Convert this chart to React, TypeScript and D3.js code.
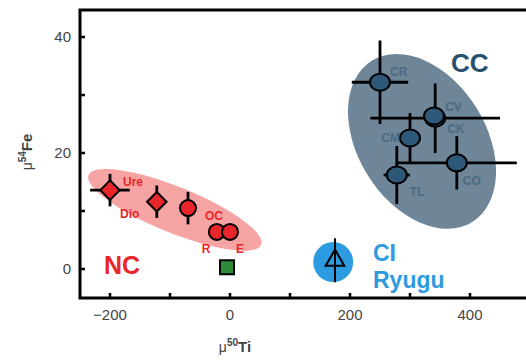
import React from "react";
import * as d3 from "d3";

// NC meteorites (mu50Ti, mu54Fe, errors)
const ncNames = ["Ure", "Dio", "OC", "R", "E"];
const ncTi = [-200, -122, -70, -22, 0];
const ncFe = [13.6, 11.6, 10.5, 6.4, 6.4];
const ncTiErr = [33, 12, 0, 0, 0];
const ncFeErr = [2.8, 2.8, 2.8, 0, 0];
const ncShape = ["diamond", "diamond", "circle", "circle", "circle"];

// CC meteorites
const ccNames = ["CR", "CV", "CK", "CM", "CO", "TL"];
const ccTi = [250, 342, 340, 300, 378, 278];
const ccFe = [32.2, 26, 26.4, 22.6, 18.3, 16.2];
const ccTiErr = [47, 108, 0, 0, 100, 22];
const ccFeErr = [7.2, 6, 0, 4.3, 4.6, 5];

// CI / Ryugu and the green square
const ryuguTi = [175];
const ryuguFe = [1.5];
const ryuguFeErr = [3.8];
const squareTi = [-5];
const squareFe = [0.3];

const xTicks = [-200, 0, 200, 400];
const xMinor = [-100, 100, 300];
const yTicks = [0, 20, 40];
const yMinor = [10, 30];

const W = 526;
const H = 363;
const left = 80;
const right = 530;
const top = 10;
const bottom = 298;

const x = d3.scaleLinear().domain([-250, 500]).range([left, right]);
const y = d3.scaleLinear().domain([-5, 44.66]).range([bottom, top]);

const RED = "#e8262a";
const PINK = "#f5a3a3";
const NAVY = "#2d5878";
const SLATE = "#6f8699";
const CCTXT = "#28506f";
const SKY = "#2d9be0";
const LBL = "#4a6a84";

const font = "Liberation Sans, Arial, sans-serif";

const diamond = d3.symbol().type(d3.symbolSquare).size(190);
const triangle = d3.symbol().type(d3.symbolTriangle).size(150);

export default function App() {
  return (
    <svg width={W} height={H} style={{ position: "absolute", left: 0, top: 0 }} fontFamily={font}>
      <rect width={W} height={H} fill="#fff" />

      {/* group ellipses */}
      <ellipse cx={x(-92)} cy={y(10.2)} rx={93} ry={23} fill={PINK}
        transform={`rotate(22 ${x(-92)} ${y(10.2)})`} />
      <ellipse cx={x(320)} cy={y(22)} rx={95} ry={64} fill={SLATE}
        transform={`rotate(58 ${x(320)} ${y(22)})`} />
      <circle cx={x(172)} cy={y(1.2)} r={20} fill={SKY} />

      {/* NC error bars + markers */}
      {ncNames.map((n, i) => (
        <g key={n}>
          <line x1={x(ncTi[i] - ncTiErr[i])} x2={x(ncTi[i] + ncTiErr[i])} y1={y(ncFe[i])} y2={y(ncFe[i])} stroke="#000" strokeWidth={2.8} />
          <line x1={x(ncTi[i])} x2={x(ncTi[i])} y1={y(ncFe[i] - ncFeErr[i])} y2={y(ncFe[i] + ncFeErr[i])} stroke="#000" strokeWidth={2.8} />
          {ncShape[i] === "diamond" ? (
            <path d={diamond()!} transform={`translate(${x(ncTi[i])},${y(ncFe[i])}) rotate(45)`} fill={RED} stroke="#000" strokeWidth={2} />
          ) : (
            <circle cx={x(ncTi[i])} cy={y(ncFe[i])} r={8} fill={RED} stroke="#000" strokeWidth={2} />
          )}
        </g>
      ))}
      <rect x={x(squareTi[0]) - 7} y={y(squareFe[0]) - 7} width={14} height={14} fill="#2e8b3a" stroke="#000" strokeWidth={2} />

      {/* NC labels */}
      <g fill={RED} fontSize={12} fontWeight="bold">
        <text x={x(-200) + 13} y={y(13.6) - 4}>Ure</text>
        <text x={x(-200) + 10} y={y(11.6) + 16}>Dio</text>
        <text x={x(-70) + 17} y={y(10.5) + 12}>OC</text>
        <text x={x(-22) - 15} y={y(6.4) + 21}>R</text>
        <text x={x(0) + 6} y={y(6.4) + 21}>E</text>
      </g>
      <text x={104} y={274} fill={RED} fontSize={25} fontWeight="bold">NC</text>

      {/* CC error bars + markers */}
      {ccNames.map((n, i) => (
        <g key={n}>
          <line x1={x(ccTi[i] - ccTiErr[i])} x2={x(ccTi[i] + ccTiErr[i])} y1={y(ccFe[i])} y2={y(ccFe[i])} stroke="#000" strokeWidth={2.8} />
          <line x1={x(ccTi[i])} x2={x(ccTi[i])} y1={y(ccFe[i] - ccFeErr[i])} y2={y(ccFe[i] + ccFeErr[i])} stroke="#000" strokeWidth={2.8} />
        </g>
      ))}
      {ccNames.map((n, i) => (
        <ellipse key={n} cx={x(ccTi[i])} cy={y(ccFe[i])} rx={10} ry={8.5} fill={NAVY} stroke="#000" strokeWidth={2} />
      ))}
      <g fill={LBL} fontSize={12} fontWeight="bold">
        <text x={x(250) + 10} y={y(32.2) - 6}>CR</text>
        <text x={x(342) + 10} y={y(26) - 7}>CV</text>
        <text x={x(342) + 12} y={y(26) + 15}>CK</text>
        <text x={x(300) - 10} y={y(22.6) + 4} textAnchor="end">CM</text>
        <text x={x(378) + 6} y={y(18.3) + 22}>CO</text>
        <text x={x(278) + 13} y={y(16.2) + 21}>TL</text>
      </g>
      <text x={451} y={72} fill={CCTXT} fontSize={26} fontWeight="bold">CC</text>

      {/* CI Ryugu */}
      <line x1={x(ryuguTi[0])} x2={x(ryuguTi[0])} y1={y(ryuguFe[0] - ryuguFeErr[0])} y2={y(ryuguFe[0] + ryuguFeErr[0])} stroke="#000" strokeWidth={2} />
      <path d={triangle()!} transform={`translate(${x(ryuguTi[0])},${y(ryuguFe[0])})`} fill="none" stroke="#000" strokeWidth={2} />
      <g fill={SKY} fontSize={23} fontWeight="bold">
        <text x={373} y={261}>CI</text>
        <text x={373} y={288}>Ryugu</text>
      </g>

      {/* frame */}
      <rect x={left} y={top} width={right - left} height={bottom - top} fill="none" stroke="#000" strokeWidth={3} />

      {/* ticks */}
      {xTicks.concat(xMinor).map((t) => (
        <line key={"x" + t} x1={x(t)} x2={x(t)} y1={bottom} y2={bottom - 5} stroke="#000" strokeWidth={2.5} />
      ))}
      {yTicks.concat(yMinor).map((t) => (
        <line key={"y" + t} x1={left} x2={left + 5} y1={y(t)} y2={y(t)} stroke="#000" strokeWidth={2.5} />
      ))}
      <g fill="#444" fontSize={15}>
        {xTicks.map((t) => (
          <text key={t} x={x(t)} y={320} textAnchor="middle">{t < 0 ? "\u2212" + Math.abs(t) : t}</text>
        ))}
        {yTicks.map((t) => (
          <text key={t} x={71} y={y(t) + 5} textAnchor="end">{t}</text>
        ))}
      </g>

      {/* axis titles */}
      <text x={235} y={352} textAnchor="middle" fill="#444">
        <tspan fontSize={14}>μ</tspan>
        <tspan fontSize={10} fontWeight="bold" dy={-6}>50</tspan>
        <tspan fontSize={15} fontWeight="bold" dy={6}>Ti</tspan>
      </text>
      <text transform="translate(32,152) rotate(-90)" textAnchor="middle" fill="#444">
        <tspan fontSize={14}>μ</tspan>
        <tspan fontSize={10} fontWeight="bold" dy={-6}>54</tspan>
        <tspan fontSize={15} fontWeight="bold" dy={6}>Fe</tspan>
      </text>
    </svg>
  );
}
